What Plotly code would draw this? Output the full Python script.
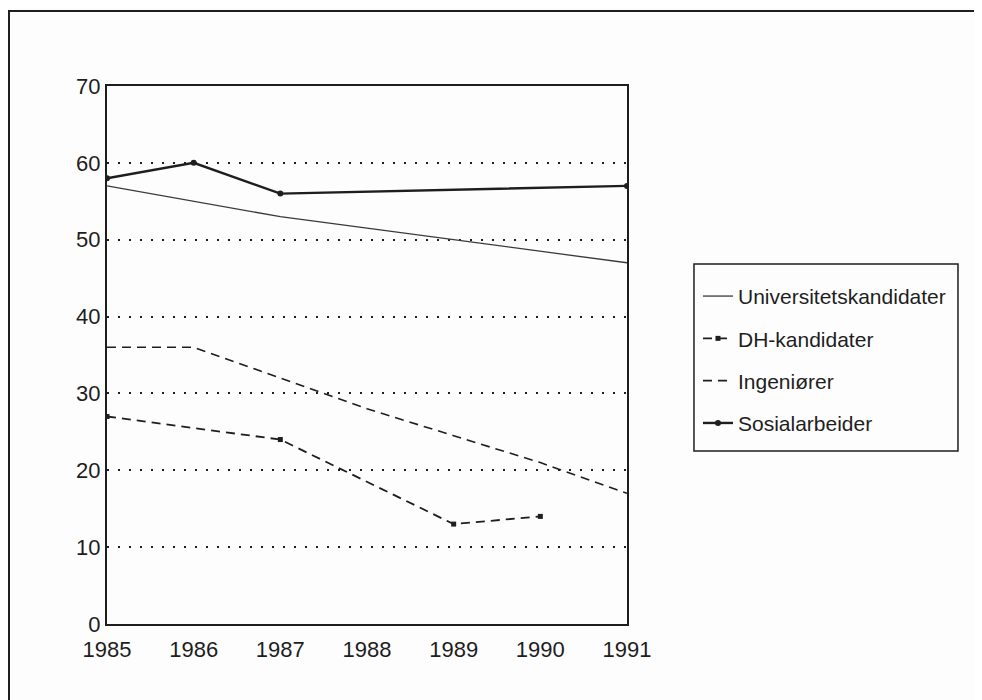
import plotly.graph_objects as go

years = [1985, 1986, 1987, 1988, 1989, 1990, 1991]

# values (None = no point for that year)
universitet = [57, 55, 53, 51.5, 50, 48.5, 47]
dh_kandidater = [27, None, 24, None, 13, 14, None]
ingeniorer = [36, 36, 32, 28, 24.5, 21, 17]
sosialarbeider = [58, 60, 56, None, None, None, 57]

y_ticks = [0, 10, 20, 30, 40, 50, 60, 70]

ink = "#1e1e1e"
font = "Liberation Sans, Arial, Helvetica, sans-serif"

fig = go.Figure()

fig.add_trace(go.Scatter(
    x=years, y=universitet, name="Universitetskandidater", mode="lines",
    line=dict(color="#3a3a3a", width=1.3), legendgroup="a"))
fig.add_trace(go.Scatter(
    x=years, y=dh_kandidater, name="DH-kandidater", mode="lines+markers",
    connectgaps=True, line=dict(color=ink, width=1.8, dash="9px,6px"),
    marker=dict(size=5, color=ink, symbol="square"), legendgroup="b"))
fig.add_trace(go.Scatter(
    x=years, y=ingeniorer, name="Ingeniører", mode="lines",
    line=dict(color=ink, width=1.6, dash="9px,6px"), legendgroup="c"))
fig.add_trace(go.Scatter(
    x=years, y=sosialarbeider, name="Sosialarbeider", mode="lines+markers",
    connectgaps=True, line=dict(color=ink, width=2.4),
    marker=dict(size=6, color=ink), legendgroup="d"))

fig.update_xaxes(
    range=[1985, 1991], tickvals=years, ticks="", showgrid=False,
    showline=True, linecolor=ink, linewidth=2, mirror=True, zeroline=False,
    ticklabelstandoff=5,
    tickfont=dict(size=22, color=ink, family=font))
fig.update_yaxes(
    range=[0, 70], tickvals=y_ticks, ticks="", showgrid=True,
    gridcolor=ink, gridwidth=2, griddash="2px,9px", zeroline=False,
    showline=True, linecolor=ink, linewidth=2, mirror=True,
    tickfont=dict(size=22, color=ink, family=font))

# outer frame and legend frame
fig.add_shape(type="rect", xref="paper", yref="paper",
              x0=-0.1885, x1=1.679, y0=-0.16, y1=1.1394,
              line=dict(color=ink, width=2))
fig.add_shape(type="rect", xref="paper", yref="paper",
              x0=1.1288, x1=1.6365, y0=0.3216, y1=0.6691,
              line=dict(color=ink, width=1.5))

fig.update_layout(
    width=974, height=692,
    margin=dict(l=99, r=355, t=78, b=76),
    paper_bgcolor="#fdfdfd", plot_bgcolor="#fdfdfd",
    font=dict(family=font, color=ink),
    showlegend=True,
    legend=dict(x=1.1365, xanchor="left", y=0.647, yanchor="top",
                font=dict(size=21, family=font, color=ink),
                traceorder="grouped", tracegroupgap=12, itemwidth=30,
                bgcolor="rgba(0,0,0,0)", borderwidth=0),
)

fig.write_html("out.html")
